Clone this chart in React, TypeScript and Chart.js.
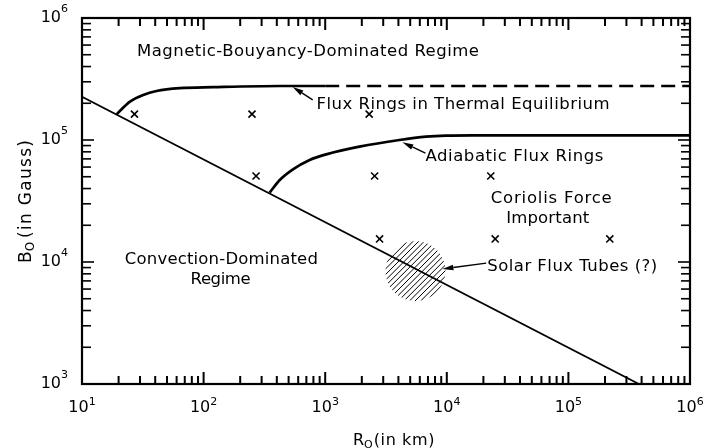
import React, { useEffect, useRef } from "react";
import { Chart, registerables } from "chart.js";

Chart.register(...registerables);

// ---- axis ranges and ticks ----
const R_MIN = 10;
const R_MAX = 1e6;
const B_MIN = 1e3;
const B_MAX = 1e6;
const xTickExponents = [1, 2, 3, 4, 5, 6];
const yTickExponents = [3, 4, 5, 6];
const minorMultipliers = [1, 2, 3, 4, 5, 6, 7, 8, 9];

// ---- curves (R0 in km, B0 in Gauss) ----
const boundaryR = [10, 3.8e5];
const boundaryB = [2.26e5, 1e3];

const thermalR = [19.3, 24.8, 31.9, 41, 63.8, 120, 423, 1000];
const thermalB = [1.63e5, 2.06e5, 2.34e5, 2.52e5, 2.66e5, 2.71e5, 2.77e5, 2.77e5];
const thermalExtR = [1000, 1e6];
const thermalExtB = [2.77e5, 2.77e5];

const adiabaticR = [349, 423, 543, 745, 1020, 1914, 4080, 6760, 9860, 1.62e4, 1e6];
const adiabaticB = [3.7e4, 4.7e4, 5.75e4, 6.86e4, 7.63e4, 8.82e4, 1.0e5, 1.064e5, 1.085e5, 1.09e5, 1.09e5];

// ---- model points (x markers) ----
const markerR = [27, 250, 2300, 270, 2550, 2.3e4, 2800, 2.5e4, 2.19e5];
const markerB = [1.63e5, 1.63e5, 1.63e5, 5.07e4, 5.07e4, 5.07e4, 1.545e4, 1.545e4, 1.545e4];

// ---- solar flux tube region ----
const solarR = 5520;
const solarB = 8430;
const solarRadiusDecades = 0.246;

// ---- text annotations (data anchors) ----
const labelTexts = [
  "Magnetic-Bouyancy-Dominated Regime",
  "Flux Rings in Thermal Equilibrium",
  "Adiabatic Flux Rings",
  "Coriolis Force",
  "Important",
  "Convection-Dominated",
  "Regime",
  "Solar Flux Tubes (?)",
];
const labelR = [28.3, 849, 6670, 7.23e4, 6.76e4, 140, 138, 2.15e4];
const labelB = [5.47e5, 2.01e5, 7.54e4, 3.41e4, 2.34e4, 1.08e4, 7.4e3, 9.44e3];
const labelAlign = ["left", "left", "left", "center", "center", "center", "center", "left"];
const labelWidth = [342, 293, 178, 121, 83, 193, 60, 170];

// ---- arrows (tail -> head, data coords) ----
const arrowTailR = [789, 6670, 2.11e4];
const arrowTailB = [2.13e5, 7.8e4, 9.8e3];
const arrowHeadR = [540, 4315, 9200];
const arrowHeadB = [2.72e5, 9.6e4, 8.77e3];

const FONT = '"DejaVu Sans", "Noto Sans", sans-serif';

function pts(xs: number[], ys: number[]) {
  return xs.map((x, i) => ({ x, y: ys[i] }));
}

function fitText(
  ctx: CanvasRenderingContext2D,
  text: string,
  x: number,
  y: number,
  width: number,
  align: string
) {
  (ctx as any).letterSpacing = "0px";
  const natural = ctx.measureText(text).width;
  const n = Math.max(1, text.length - 1);
  const ls = (width - natural) / n;
  (ctx as any).letterSpacing = ls + "px";
  const left = align === "center" ? x - width / 2 : x;
  ctx.textAlign = "left";
  ctx.fillText(text, left, y);
  (ctx as any).letterSpacing = "0px";
}

const decorPlugin = {
  id: "decor",
  beforeDatasetsDraw(chart: any) {
    const { ctx, scales } = chart;
    const x = scales.x;
    const y = scales.y;
    const cx = x.getPixelForValue(solarR);
    const cy = y.getPixelForValue(solarB);
    const r = Math.abs(y.getPixelForValue(solarB * Math.pow(10, solarRadiusDecades)) - cy);
    ctx.save();
    ctx.beginPath();
    ctx.arc(cx, cy, r, 0, Math.PI * 2);
    ctx.clip();
    ctx.strokeStyle = "#000";
    ctx.lineWidth = 1;
    for (let k = -2 * r; k <= 2 * r; k += 5.6) {
      ctx.beginPath();
      ctx.moveTo(cx + k - r, cy + r);
      ctx.lineTo(cx + k + r, cy - r);
      ctx.stroke();
    }
    ctx.restore();
  },
  afterDraw(chart: any) {
    const { ctx, chartArea, scales } = chart;
    const x = scales.x;
    const y = scales.y;
    const { left, right, top, bottom } = chartArea;
    ctx.save();
    ctx.strokeStyle = "#000";
    ctx.fillStyle = "#000";
    ctx.setLineDash([]);

    // frame
    ctx.lineWidth = 2.2;
    ctx.strokeRect(left, top, right - left, bottom - top);

    // ticks (inward, all four sides)
    ctx.lineWidth = 2;
    ctx.beginPath();
    for (let e = 1; e <= 5; e++) {
      for (const m of minorMultipliers) {
        const v = m * Math.pow(10, e);
        if (v <= R_MIN) continue;
        const px = x.getPixelForValue(v);
        const len = m === 1 ? 12 : 8;
        ctx.moveTo(px, bottom);
        ctx.lineTo(px, bottom - len);
        ctx.moveTo(px, top);
        ctx.lineTo(px, top + len);
      }
    }
    ctx.stroke();
    for (let e = 3; e <= 5; e++) {
      for (const m of minorMultipliers) {
        const v = m * Math.pow(10, e);
        if (v <= B_MIN) continue;
        const py = y.getPixelForValue(v);
        const len = m === 1 ? 12 : 9;
        ctx.fillRect(left, py - 0.8, len, 1.6);
        ctx.fillRect(right - len, py - 0.8, len, 1.6);
      }
    }

    const seg = (x1: number, y1: number, x2: number, y2: number) => {
      ctx.beginPath();
      ctx.moveTo(x1, y1);
      ctx.lineTo(x2, y2);
      ctx.stroke();
    };

    // tick labels
    const big = `16px ${FONT}`;
    const sup = `11px ${FONT}`;
    ctx.textAlign = "left";
    ctx.textBaseline = "alphabetic";
    for (const e of xTickExponents) {
      const px = x.getPixelForValue(Math.pow(10, e));
      ctx.font = big;
      const w1 = ctx.measureText("10").width;
      ctx.font = sup;
      const w2 = ctx.measureText(String(e)).width;
      const l = px - (w1 + w2) / 2;
      ctx.font = big;
      ctx.fillText("10", l, bottom + 28);
      ctx.font = sup;
      ctx.fillText(String(e), l + w1, bottom + 21);
    }
    for (const e of yTickExponents) {
      const py = y.getPixelForValue(Math.pow(10, e));
      ctx.font = sup;
      const w2 = ctx.measureText(String(e)).width;
      ctx.font = big;
      const w1 = ctx.measureText("10").width;
      const r = left - 14;
      ctx.fillText("10", r - w2 - w1, py + 4);
      ctx.font = sup;
      ctx.fillText(String(e), r - w2, py - 6);
    }

    // axis titles
    ctx.font = big;
    let xx = 353;
    ctx.fillText("R", xx, bottom + 61);
    xx += ctx.measureText("R").width;
    ctx.font = sup;
    ctx.fillText("O", xx, bottom + 64);
    xx += ctx.measureText("O").width + 1;
    ctx.font = big;
    (ctx as any).letterSpacing = "0.6px";
    ctx.fillText("(in km)", xx, bottom + 61);
    (ctx as any).letterSpacing = "0px";

    ctx.save();
    ctx.translate(31, 263);
    ctx.rotate(-Math.PI / 2);
    ctx.font = `17px ${FONT}`;
    let yy = 0;
    ctx.fillText("B", yy, 0);
    yy += ctx.measureText("B").width;
    ctx.font = `12px ${FONT}`;
    ctx.fillText("O", yy, 3);
    yy += ctx.measureText("O").width + 4;
    ctx.font = `17px ${FONT}`;
    fitText(ctx, "(in Gauss)", yy, 0, 123 - yy, "left");
    ctx.restore();

    // region labels
    ctx.font = `16.5px ${FONT}`;
    labelTexts.forEach((t, i) => {
      const px = x.getPixelForValue(labelR[i]);
      const py = y.getPixelForValue(labelB[i]);
      fitText(ctx, t, px, py + 6, labelWidth[i], labelAlign[i]);
    });

    // arrows
    ctx.lineWidth = 1.4;
    arrowTailR.forEach((tr, i) => {
      const x1 = x.getPixelForValue(tr);
      const y1 = y.getPixelForValue(arrowTailB[i]);
      const x2 = x.getPixelForValue(arrowHeadR[i]);
      const y2 = y.getPixelForValue(arrowHeadB[i]);
      const ang = Math.atan2(y2 - y1, x2 - x1);
      const hl = 11;
      const hw = 2.8;
      const bx = x2 - hl * Math.cos(ang);
      const by = y2 - hl * Math.sin(ang);
      seg(x1, y1, bx, by);
      ctx.beginPath();
      ctx.moveTo(x2, y2);
      ctx.lineTo(bx + hw * Math.sin(ang), by - hw * Math.cos(ang));
      ctx.lineTo(bx - hw * Math.sin(ang), by + hw * Math.cos(ang));
      ctx.closePath();
      ctx.fill();
    });

    ctx.restore();
  },
};

export default function App() {
  const ref = useRef<HTMLCanvasElement>(null);
  useEffect(() => {
    document.body.style.margin = "0";
    const canvas = ref.current!;
    const chart = new Chart(canvas, {
      type: "scatter",
      data: {
        datasets: [
          {
            data: pts(boundaryR, boundaryB),
            showLine: true,
            borderColor: "#000",
            borderWidth: 1.8,
            pointRadius: 0,
          },
          {
            data: pts(thermalR, thermalB),
            showLine: true,
            borderColor: "#000",
            borderWidth: 2.7,
            pointRadius: 0,
            cubicInterpolationMode: "monotone",
          },
          {
            data: pts(thermalExtR, thermalExtB),
            showLine: true,
            borderColor: "#000",
            borderWidth: 2.7,
            borderDash: [14, 7],
            pointRadius: 0,
          },
          {
            data: pts(adiabaticR, adiabaticB),
            showLine: true,
            borderColor: "#000",
            borderWidth: 2.7,
            pointRadius: 0,
            cubicInterpolationMode: "monotone",
          },
          {
            data: pts(markerR, markerB),
            showLine: false,
            borderColor: "#000",
            backgroundColor: "#000",
            pointStyle: "crossRot",
            pointRadius: 5,
            borderWidth: 1.6,
          },
        ] as any,
      },
      options: {
        animation: false,
        responsive: false,
        devicePixelRatio: 1,
        layout: { padding: { left: 82, top: 18, right: 14, bottom: 64 } },
        plugins: { legend: { display: false }, tooltip: { enabled: false } },
        scales: {
          x: { type: "logarithmic", min: R_MIN, max: R_MAX, display: false },
          y: { type: "logarithmic", min: B_MIN, max: B_MAX, display: false },
        },
      } as any,
      plugins: [decorPlugin],
    });
    return () => chart.destroy();
  }, []);
  return (
    <div style={{ width: 704, height: 448, background: "#fff" }}>
      <canvas ref={ref} width={704} height={448} style={{ display: "block" }} />
    </div>
  );
}
